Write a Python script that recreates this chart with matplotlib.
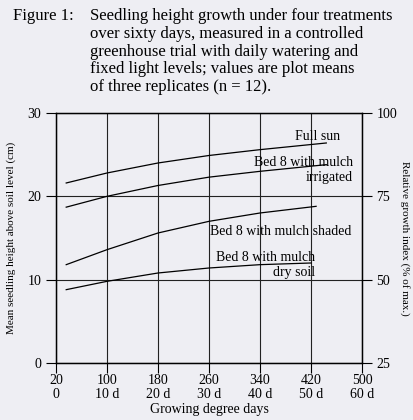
import matplotlib.pyplot as plt

plt.rcParams['font.family'] = ['Liberation Serif', 'DejaVu Sans']

# x ticks: two rows of labels
x_ticks = [0, 10, 20, 30, 40, 50, 60]
x_top = ["20", "100", "180", "260", "340", "420", "500"]
x_bottom = ["0", "10 d", "20 d", "30 d", "40 d", "50 d", "60 d"]

left_ticks = [0, 10, 20, 30]
right_ticks = [25, 50, 75, 100]

# curves
open_x = [2, 10, 20, 30, 40, 53]
open_y = [21.6, 22.8, 24.0, 24.9, 25.6, 26.4]
wet_x = [2, 10, 20, 30, 40, 53]
wet_y = [18.7, 20.0, 21.3, 22.3, 23.0, 23.8]
shade_x = [2, 10, 20, 30, 40, 51]
shade_y = [11.8, 13.6, 15.6, 17.0, 18.0, 18.8]
dry_x = [2, 10, 20, 30, 40, 50]
dry_y = [8.8, 9.8, 10.8, 11.4, 11.8, 12.0]

bg = '#eeeef3'
fig = plt.figure(figsize=(4.14, 4.2), dpi=100, facecolor=bg)
ax = fig.add_axes([0.1353, 0.1357, 0.7391, 0.5953], facecolor=bg)

for xs, ys in [(open_x, open_y), (wet_x, wet_y), (shade_x, shade_y), (dry_x, dry_y)]:
    ax.plot(xs, ys, color='black', lw=0.9)

ax.set_xlim(0, 60)
ax.set_ylim(0, 30)
ax.set_xticks(x_ticks)
ax.set_xticklabels([t + "\n" + b for t, b in zip(x_top, x_bottom)], fontsize=10, linespacing=1.1)
ax.set_yticks(left_ticks)
ax.tick_params(labelsize=10, length=7, width=0.8, direction='out')
ax.tick_params(axis='x', pad=1)
ax.grid(True, color='#222222', lw=0.8)
for s in ax.spines.values():
    s.set_linewidth(1.0)
ax.set_xlabel("Growing degree days", fontsize=10, labelpad=1)
ax.set_ylabel("Mean seedling height above soil level (cm)", fontsize=8, labelpad=8)

ax2 = ax.twinx()
ax2.set_ylim(25, 100)
ax2.set_yticks(right_ticks)
ax2.tick_params(labelsize=10, length=7, width=0.8, direction='out')
ax2.set_ylabel("Relative growth index (% of max.)", fontsize=8, rotation=270, labelpad=9)

ax.text(55.7, 27.2, "Full sun", ha='right', va='center', fontsize=10)
ax.text(58.2, 23.1, "Bed 8 with mulch\nirrigated", ha='right', va='center', fontsize=10, multialignment='right')
ax.text(58.0, 15.8, "Bed 8 with mulch shaded", ha='right', va='center', fontsize=10)
ax.text(50.8, 11.7, "Bed 8 with mulch\ndry soil", ha='right', va='center', fontsize=10, multialignment='right')

fig.text(13 / 414, 1 - 8 / 420, "Figure 1:", ha='left', va='top', fontsize=12)
fig.text(90 / 414, 1 - 8 / 420,
         "Seedling height growth under four treatments\n"
         "over sixty days, measured in a controlled\n"
         "greenhouse trial with daily watering and\n"
         "fixed light levels; values are plot means\n"
         "of three replicates (n = 12).",
         ha='left', va='top', fontsize=12, linespacing=1.15)

fig.savefig('out.png', dpi=100, facecolor=bg)
